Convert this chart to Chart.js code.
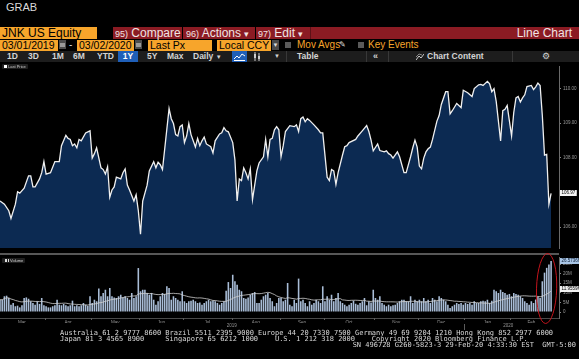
<!DOCTYPE html>
<html>
<head>
<meta charset="utf-8">
<script src="https://cdn.jsdelivr.net/npm/chart.js@4.4.1/dist/chart.umd.min.js"></script>
<style>
body{margin:0;background:#000;overflow:hidden;font-family:"Liberation Sans",Arial,sans-serif}
#wrap{position:relative;width:579px;height:359px;background:#000;overflow:hidden}
.a{position:absolute;white-space:nowrap}
.ob{position:absolute;background:#f7a52b;color:#000;font-size:10.5px;line-height:11px;height:11px;padding-left:2px;box-sizing:border-box;white-space:nowrap}
.tab{color:#f1e4e4;font-size:12px;line-height:12px}
.tab small{font-size:9px}
.btn{position:absolute;top:51px;height:11px;line-height:11px;font-size:8.5px;font-weight:bold;color:#d4d4d4;white-space:nowrap}
.blue{background:#1f5fb8;color:#fff;text-align:center}
.sep{position:absolute;top:51px;width:1px;height:11px;background:#383838}
.chk{position:absolute;width:6px;height:6px;background:#5a5a5a}
.cal{position:absolute;width:7px;height:9px;background:#4d4d4d}
.cal:after{content:"";position:absolute;left:1px;top:3px;width:5px;height:4px;background:#9a9a9a}
.lg{position:absolute;background:#1f1f1f;border-radius:1px;font-size:4px;color:#cfcfcf;line-height:5px;height:5px;white-space:nowrap}
.ft{position:absolute;font-family:"DejaVu Sans Mono",monospace;font-size:7px;color:#d8d8d8;white-space:pre;line-height:6px}
canvas{position:absolute;left:0}
</style>
</head>
<body>
<div id="wrap">
  <div class="a" style="left:6px;top:1px;font-size:11px;color:#dadada">GRAB</div>

  <!-- row 1 -->
  <div class="ob" style="left:0;top:27px;width:97px;height:12px;font-size:12px;line-height:12px">JNK US Equity</div>
  <div class="a" style="left:113px;top:27px;width:466px;height:12px;background:#8b1b23"></div>
  <div class="a" style="left:182px;top:27px;width:1px;height:12px;background:#000"></div>
  <div class="a" style="left:255px;top:27px;width:1px;height:12px;background:#000"></div>
  <div class="a" style="left:310px;top:27px;width:1px;height:12px;background:#5e1117"></div>
  <div class="a tab" style="left:115px;top:27px"><small>95)</small> Compare</div>
  <div class="a tab" style="left:186px;top:27px"><small>96)</small> Actions <small>▾</small></div>
  <div class="a tab" style="left:258px;top:27px"><small>97)</small> Edit <small>▾</small></div>
  <div class="a tab" style="right:7px;top:27px">Line Chart</div>

  <!-- row 2 -->
  <div class="ob" style="left:0;top:40px;width:58px">03/01/2019</div>
  <div class="cal" style="left:59px;top:40px"></div>
  <div class="a" style="left:69px;top:39px;font-size:10px;color:#ddd">-</div>
  <div class="ob" style="left:77px;top:40px;width:57px">03/02/2020</div>
  <div class="cal" style="left:135px;top:40px"></div>
  <div class="ob" style="left:148px;top:40px;width:64px">Last Px</div>
  <div class="ob" style="left:217px;top:40px;width:54px">Local CCY</div>
  <div class="a" style="left:272px;top:40px;width:7px;height:10px;background:#4a4a4a;color:#ddd;font-size:6px;text-align:center;line-height:10px">▼</div>
  <div class="chk" style="left:285px;top:42px"></div>
  <div class="a" style="left:297px;top:39px;font-size:10px;line-height:11px;color:#f7a52b">Mov Avgs</div>
  <div class="a" style="left:339px;top:39px;font-size:8px;line-height:11px;color:#ddd">✎</div>
  <div class="chk" style="left:358px;top:42px"></div>
  <div class="a" style="left:368px;top:39px;font-size:10px;line-height:11px;color:#f7a52b">Key Events</div>

  <!-- row 3 -->
  <div class="a" style="left:0;top:51px;width:579px;height:11px;background:#1d1d1d"></div>
  <div class="btn" style="left:7px">1D</div>
  <div class="btn" style="left:28px">3D</div>
  <div class="btn" style="left:52px">1M</div>
  <div class="btn" style="left:73px">6M</div>
  <div class="btn" style="left:97px">YTD</div>
  <div class="btn blue" style="left:118px;width:20px">1Y</div>
  <div class="btn" style="left:147px">5Y</div>
  <div class="btn" style="left:167px">Max</div>
  <div class="btn" style="left:193px">Daily <span style="font-size:6px">▼</span></div>
  <div class="btn blue" style="left:232px;width:15px"><svg width="11" height="9" style="margin-top:1px"><polyline points="0,7 3,4 5,6 8,2 11,4" fill="none" stroke="#fff" stroke-width="1"/><line x1="0" y1="8.5" x2="11" y2="8.5" stroke="#fff" stroke-width="1"/></svg></div>
  <div class="btn" style="left:253px"><svg width="8" height="9" style="margin-top:1px"><line x1="2" y1="0" x2="2" y2="9" stroke="#ccc"/><rect x="1" y="2" width="2" height="4" fill="#ccc"/><line x1="6" y1="1" x2="6" y2="9" stroke="#ccc"/><rect x="5" y="4" width="2" height="3" fill="#ccc"/></svg></div>
  <div class="btn" style="left:274px;font-size:6px">▼</div>
  <div class="sep" style="left:286px"></div>
  <div class="btn" style="left:297px">Table</div>
  <div class="sep" style="left:366px"></div>
  <div class="btn" style="left:373px;font-size:9px">«</div>
  <div class="sep" style="left:388px"></div>
  <div class="btn" style="left:416px"><svg width="8" height="9" style="margin-top:1px"><polyline points="0,8 3,4 5,6 8,2" fill="none" stroke="#ccc"/><polyline points="0,5 3,2 6,3" fill="none" stroke="#888"/></svg></div>
  <div class="btn" style="left:427px">Chart Content</div>
  <div class="sep" style="left:512px"></div>
  <div class="btn" style="left:542px;font-size:9px;font-weight:normal">⚙</div>

  <!-- panels -->
  <canvas id="px" width="579" height="191" style="top:62px"></canvas>
  <div class="a" style="left:0;top:253px;width:559px;height:2px;background:#575757"></div>
  <canvas id="vol" width="579" height="82" style="top:250px"></canvas>

  <div class="lg" style="left:2px;top:64px;width:26px"><span style="display:inline-block;width:3px;height:3px;background:#fff;margin:1px 1px 0 2px;vertical-align:top"></span>Last Price</div>
  <div class="lg" style="left:2px;top:258px;width:23px"><span style="display:inline-block;width:4px;height:3px;margin:1px 1px 0 3px;vertical-align:top;background:linear-gradient(90deg,#ddd 0 1px,transparent 1px 1.5px,#ddd 1.5px 2.5px,transparent 2.5px 3px,#ddd 3px)"></span>Volume</div>

  <!-- footer -->
  <div class="ft" style="left:60px;top:330px">Australia 61 2 9777 8600 Brazil 5511 2395 9000 Europe 44 20 7330 7500 Germany 49 69 9204 1210 Hong Kong 852 2977 6000</div>
  <div class="ft" style="left:60px;top:336px">Japan 81 3 4565 8900     Singapore 65 6212 1000    U.S. 1 212 318 2000    Copyright 2020 Bloomberg Finance L.P.</div>
  <div class="ft" style="right:3px;top:342px">SN 496728 G260-5823-3 29-Feb-20 4:33:30 EST  GMT-5:00</div>
</div>

<script>
// ===== DATA =====
const monthNames = ["Mar","Apr","May","Jun","Jul","Aug","Sep","Oct","Nov","Dec","Jan","Feb"];
const monthDays  = [21,21,22,20,22,22,20,23,20,21,21,19];   // trading days per month
const yearNames  = ["2019","2020"];
const yearMonths = [10,2];
const priceTicks = [106,107,108,109,110];
const volTicks   = [0,5,10,15,20,25];

// trading day index (0 = 01 Mar 2019) and last price
const priceDay = [0,2,4,5,7,8,9,11,13,14,15,16,18,19,20,21,23,25,27,28,
  30,31,32,33,34,35,36,37,39,41,42,43,44,46,47,48,49,50,51,52,
  53,55,56,57,58,59,61,62,63,64,65,67,68,70,71,72,73,74,77,78,
  79,80,81,82,83,84,85,86,87,89,90,91,92,93,94,96,97,98,100,101,
  102,103,104,106,107,108,109,110,111,112,113,114,115,116,117,118,120,121,122,123,
  124,125,126,127,128,129,130,132,134,135,136,137,138,139,140,141,143,145,146,147,
  149,150,151,152,153,154,156,157,158,159,162,163,165,167,168,169,170,172,173,175,
  176,177,178,179,181,182,184,185,187,188,189,190,191,192,193,194,195,196,197,199,
  200,201,203,204,205,206,208,209,210,211,213,215,216,218,219,220,222,223,224,225,
  226,228,229,230,231,233,234,235,236,237,238,239,240,242,243,244,245,246,247,248,
  249,250,251];
const priceVal = [106.75,106.66,106.47,106.25,106.66,107.02,106.98,107.12,107.48,107.48,107.16,107.16,107.39,107.57,107.89,107.53,107.57,107.89,107.89,108.35,
  108.65,108.56,108.53,108.35,108.40,108.29,108.53,108.49,108.72,108.78,107.99,108.12,108.29,107.71,107.66,107.53,107.74,106.86,107.07,107.16,
  107.44,107.39,107.57,107.68,107.21,107.07,106.75,106.93,106.47,105.79,106.75,107.21,107.62,107.89,107.71,107.87,107.80,107.66,109.42,109.13,
  108.99,108.67,108.63,108.90,108.95,108.44,108.63,108.99,108.67,108.31,108.56,108.35,108.49,108.60,108.40,108.32,108.14,108.49,108.69,108.72,
  108.87,108.78,108.75,108.44,107.94,106.75,107.39,107.34,107.71,107.57,107.39,107.68,106.79,107.21,107.62,107.85,108.03,108.53,108.03,108.53,
  108.56,108.81,108.90,108.81,108.03,108.35,108.76,108.93,108.90,108.95,108.76,109.13,109.18,109.04,109.13,109.08,108.95,108.81,108.72,108.72,
  107.44,107.34,107.66,107.62,107.23,107.57,108.08,108.32,108.35,108.44,108.53,108.63,108.78,108.93,108.76,108.51,108.20,108.40,108.21,108.17,
  108.20,108.12,108.08,107.99,108.17,108.03,107.57,107.57,108.03,108.29,108.51,108.31,107.76,107.68,107.99,108.17,108.26,108.31,108.53,109.06,
  109.22,109.54,109.91,109.91,109.27,109.36,109.57,109.51,109.45,109.95,109.88,109.77,110.00,110.11,110.12,110.09,110.21,110.14,109.91,110.00,
  109.63,108.49,109.36,109.40,109.51,108.63,109.31,109.73,109.77,109.61,109.73,109.82,110.06,110.09,109.97,110.05,110.16,110.09,109.22,108.08,
  108.10,106.66,106.97];

// daily volume, millions
const volume = [6.4,6.4,8.2,8.5,7.3,3.8,4.7,3.0,3.3,2.4,3.5,7.3,7.6,6.9,5.6,4.7,3.8,5.6,4.2,7.3,3.5,
  3.0,2.4,2.4,3.0,3.5,6.4,3.8,3.5,4.2,3.5,3.0,3.5,5.9,3.0,3.5,3.0,3.5,4.7,3.8,3.3,8.2,
  4.7,6.4,5.6,12.2,8.2,9.9,11.6,8.2,12.5,8.2,7.6,7.3,8.2,9.0,7.6,8.2,7.3,6.4,9.9,7.3,8.2,22.9,
  10.8,11.6,11.6,9.9,9.0,9.9,6.4,3.8,5.6,8.2,9.9,9.4,13.4,12.5,6.4,8.2,7.3,6.4,5.6,10.8,
  5.6,4.7,5.6,5.9,6.4,5.6,4.7,5.0,3.8,4.7,5.6,6.4,5.6,5.9,5.6,4.7,3.8,4.7,5.6,11.1,15.6,12.5,
  19.4,16.0,14.2,11.6,10.8,7.3,6.9,7.6,9.0,9.9,10.4,4.7,4.7,6.4,8.2,9.0,9.9,7.3,5.6,3.0,4.7,7.3,
  7.3,5.6,6.4,15.1,3.8,3.0,6.4,4.7,17.4,5.6,6.4,4.7,3.0,5.6,3.8,4.7,6.4,5.6,4.7,13.4,
  5.6,8.2,6.4,9.0,5.6,7.3,9.9,5.6,4.7,3.8,3.0,3.8,4.7,5.9,4.3,3.8,4.7,5.6,7.3,3.5,5.6,5.0,11.6,
  7.3,6.4,8.2,4.7,3.8,3.0,3.8,3.0,3.5,3.8,4.7,5.6,6.4,6.4,5.6,5.6,8.2,4.7,6.4,5.6,
  6.4,5.6,7.3,5.6,6.4,4.7,7.3,6.4,5.6,8.2,7.3,6.4,5.6,3.8,2.1,3.0,3.8,4.7,4.2,4.7,3.8,
  4.7,4.2,4.7,3.8,5.6,4.7,4.7,5.6,5.9,5.6,6.4,4.7,5.9,11.6,10.8,9.9,11.6,10.4,9.9,9.0,9.4,
  8.2,9.9,9.4,9.0,8.2,7.3,5.6,4.7,3.8,5.6,4.7,6.5,8.0,7.3,16.0,20.5,23.0,24.8,26.5736];
const volAvgLast = 11.9559;   // shown on the axis tag
const maLen = 20;

// ===== DERIVED =====
let monthStart=[], acc=0;
monthDays.forEach(d=>{ monthStart.push(acc); acc+=d; });
const monthMid = monthStart.map((s,i)=>s+(monthDays[i]-1)/2);
let yearStart=[], yearMid=[], m=0;
yearMonths.forEach(n=>{
  let s=monthStart[m], e=(m+n<monthStart.length?monthStart[m+n]:acc);
  yearStart.push(s); yearMid.push((s+e-1)/2); m+=n;
});
const volAvg = volume.map((v,i)=>{
  let a=volume.slice(Math.max(0,i-maLen+1),i+1);
  return a.reduce((s,x)=>s+x,0)/a.length;
});

const X_MIN=0, X_MAX=254.6;

Chart.defaults.font.family='"Liberation Sans", Arial, sans-serif';
Chart.defaults.color='#9a9a9a';

function tag(ctx,x,y,text,bg,fg){
  ctx.font='4.5px "Liberation Sans"';
  let w=ctx.measureText(text).width+3;
  ctx.fillStyle=bg; ctx.fillRect(x,Math.round(y)-3,w,6);
  ctx.fillStyle=fg; ctx.textBaseline='middle'; ctx.textAlign='left';
  ctx.fillText(text,x+1.5,Math.round(y)+0.2);
}

const lastPx = {
  id:'lastPx',
  afterDraw(c){
    let ys=c.scales.y, v=priceVal[priceVal.length-1];
    c.ctx.save();
    tag(c.ctx,c.chartArea.right+1,ys.getPixelForValue(v),v.toFixed(2),'#f4f4f4','#000');
    c.ctx.restore();
  }
};

const volMarks = {
  id:'volMarks',
  afterDraw(c){
    let ctx=c.ctx, xs=c.scales.x, ys=c.scales.y, a=c.chartArea;
    ctx.save();
    ctx.strokeStyle='#5c5c5c'; ctx.lineWidth=1;
    monthStart.forEach(s=>{
      if(!s) return;
      let x=Math.round(xs.getPixelForValue(s-0.5))+0.5;
      ctx.beginPath(); ctx.moveTo(x,a.bottom); ctx.lineTo(x,a.bottom+2); ctx.stroke();
    });
    yearStart.forEach(s=>{
      if(!s) return;
      let x=Math.round(xs.getPixelForValue(s-0.5))+0.5;
      ctx.beginPath(); ctx.moveTo(x,a.bottom+6); ctx.lineTo(x,a.bottom+12); ctx.stroke();
    });
    let n=volume.length;
    tag(ctx,a.right+1,ys.getPixelForValue(volume[n-1]),volume[n-1].toFixed(4)+'M','#a9c6e6','#0b1b33');
    tag(ctx,a.right+1,ys.getPixelForValue(volAvgLast),volAvgLast.toFixed(4)+'M','#f2f2f2','#000');
    // red ring round the last week of volume
    let x0=xs.getPixelForValue(n-6.5), x1=xs.getPixelForValue(n-0.5);
    ctx.strokeStyle='#c4141c'; ctx.lineWidth=1;
    ctx.beginPath();
    ctx.ellipse((x0+x1)/2+1,(ys.getPixelForValue(ys.max)+ys.getPixelForValue(ys.min))/2+1,(x1-x0)/2+3.5,35,0.03,0,Math.PI*2);
    ctx.stroke();
    ctx.restore();
  }
};

// ===== PRICE =====
new Chart(document.getElementById("px"),{
  type:"line",
  data:{datasets:[{
    data:priceDay.map((d,i)=>({x:d,y:priceVal[i]})),
    borderColor:"#f0f0f0", borderWidth:1.3,
    backgroundColor:"#0c2a52", fill:"start",
    pointRadius:0, tension:0
  }]},
  options:{
    responsive:false, animation:false, devicePixelRatio:1,
    layout:{padding:0},
    plugins:{legend:{display:false},tooltip:{enabled:false}},
    scales:{
      x:{type:"linear",min:X_MIN,max:X_MAX,display:false},
      y:{position:"right",min:105.385,max:110.632,
        afterFit:s=>{s.width=20;},
        afterBuildTicks:s=>{s.ticks=priceTicks.map(v=>({value:v}));},
        grid:{drawOnChartArea:false,color:"#8a8a8a",tickLength:2},
        border:{color:"#6a6a6a"},
        ticks:{font:{size:4.5},padding:2,color:"#9a9a9a",callback:v=>v.toFixed(2)}}
    }
  },
  plugins:[lastPx]
});

// ===== VOLUME =====
new Chart(document.getElementById("vol"),{
  type:"bar",
  data:{datasets:[
    {type:"line",data:volAvg.map((v,i)=>({x:i,y:v})),borderColor:"#cfcfcf",borderWidth:0.8,pointRadius:0,tension:0,order:0},
    {type:"bar",data:volume.map((v,i)=>({x:i,y:v})),backgroundColor:"#a9bdd7",barPercentage:0.72,categoryPercentage:1,order:1}
  ]},
  options:{
    responsive:false, animation:false, devicePixelRatio:1,
    layout:{padding:{top:7,bottom:0,left:0,right:0}},
    plugins:{legend:{display:false},tooltip:{enabled:false}},
    scales:{
      x:{type:"linear",min:X_MIN,max:X_MAX,offset:false,weight:0,
        afterFit:s=>{s.height=5;},
        afterBuildTicks:s=>{s.ticks=monthMid.map(v=>({value:v}));},
        grid:{display:false,drawTicks:false,tickLength:0},
        border:{display:true,color:"#4a4a4a"},
        ticks:{font:{size:4.5},padding:2,color:"#959595",maxRotation:0,autoSkip:false,callback:(v,i)=>monthNames[i]}},
      x2:{type:"linear",position:"bottom",min:X_MIN,max:X_MAX,offset:false,weight:1,
        afterFit:s=>{s.height=9;},
        afterBuildTicks:s=>{s.ticks=yearMid.map(v=>({value:v}));},
        grid:{display:false,drawTicks:false,tickLength:0},border:{display:false},
        ticks:{font:{size:4.5},padding:0,color:"#959595",maxRotation:0,autoSkip:false,callback:(v,i)=>yearNames[i]}},
      y:{position:"right",min:-3.125,max:28.65,
        afterFit:s=>{s.width=20;},
        afterBuildTicks:s=>{s.ticks=volTicks.map(v=>({value:v}));},
        grid:{drawOnChartArea:false,color:"#8a8a8a",tickLength:2},
        border:{color:"#6a6a6a"},
        ticks:{font:{size:4.5},padding:2,color:"#9a9a9a",callback:v=>v?v+"M":"0"}}
    }
  },
  plugins:[volMarks]
});
</script>
</body>
</html>
